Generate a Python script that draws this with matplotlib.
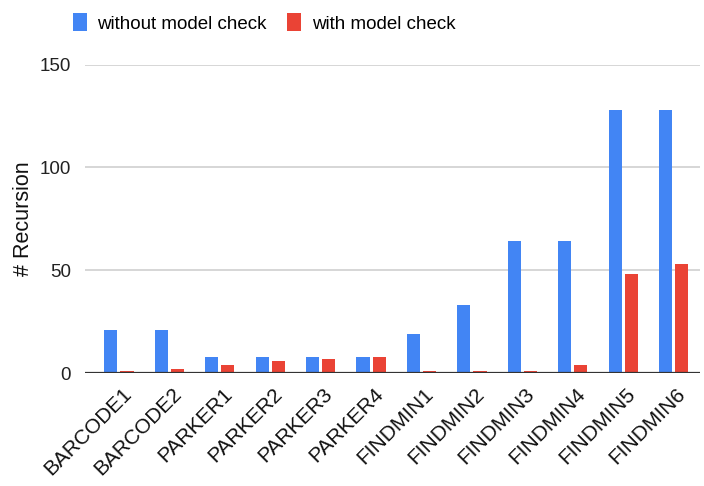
import matplotlib
matplotlib.use('Agg')
import numpy as np
from matplotlib import pyplot as plt
from matplotlib.patches import Patch

## Benchmarks and recursion counts for each run.

programs = ['BARCODE1', 'BARCODE2', 'PARKER1', 'PARKER2', 'PARKER3', 'PARKER4',
            'FINDMIN1', 'FINDMIN2', 'FINDMIN3', 'FINDMIN4', 'FINDMIN5', 'FINDMIN6']
without_check = [21, 21, 8, 8, 8, 8, 19, 33, 64, 64, 128, 128]
with_check = [1, 2, 4, 6, 7, 8, 1, 1, 1, 4, 48, 53]
y_ticks = [0, 50, 100, 150]

blue = '#4285F4'
red = '#EA4335'

plt.rcParams['font.family'] = ['Liberation Sans', 'DejaVu Sans']

fig = plt.figure(figsize=(7.04, 4.86), dpi=100)
ax = fig.add_axes([0.1207, 0.2325, 0.8733, 0.6344])

x = np.arange(len(programs))
ax.bar(x - 0.16, without_check, width=0.26, color=blue, zorder=3)
ax.bar(x + 0.16, with_check, width=0.26, color=red, zorder=3)

## Axes, gridlines and the dark baseline.

ax.set_xlim(-0.674, 11.52)
ax.set_ylim(0, 150)
ax.set_yticks(y_ticks)
ax.set_yticklabels([str(v) for v in y_ticks], fontsize=13.5, color='#222222')
ax.grid(axis='y', color='#cccccc', linewidth=1.1, zorder=0)
ax.axhline(0, color='#333333', linewidth=1.6, zorder=4)
for s in ax.spines.values():
    s.set_visible(False)
ax.tick_params(axis='both', length=0)
ax.tick_params(axis='y', pad=10)

ax.set_xticks(x + 0.05)
ax.set_xticklabels(programs, rotation=45, ha='right', va='top',
                   rotation_mode='anchor', fontsize=15, color='#111111')
ax.tick_params(axis='x', pad=8)

ax.set_ylabel('# Recursion', fontsize=15.5, color='#111111', labelpad=4)

## Legend across the top.

handles = [Patch(facecolor=blue, edgecolor='none', label='without model check'),
           Patch(facecolor=red, edgecolor='none', label='with model check')]
fig.legend(handles=handles, loc='center', bbox_to_anchor=(264 / 704, 1 - 23 / 486),
           ncol=2, frameon=False, fontsize=13.5,
           handlelength=0.75, handleheight=1.05, handletextpad=0.55, columnspacing=1.1)

plt.savefig('out.png', dpi=100)
